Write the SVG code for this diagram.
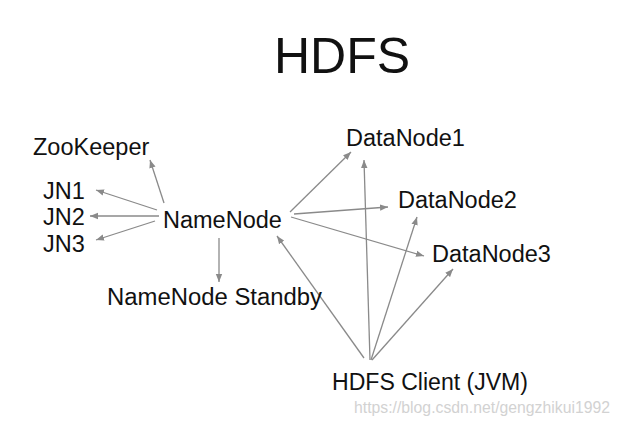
<svg xmlns="http://www.w3.org/2000/svg" width="621" height="426" viewBox="0 0 621 426">
<style>
text{font-family:"Liberation Sans",Arial,sans-serif;fill:#111;}
.n{font-size:23.5px;}
.c line{stroke:#8a8a8a;stroke-width:1.3;marker-end:url(#ah);}
</style>
<defs>
<marker id="ah" markerUnits="userSpaceOnUse" markerWidth="9" markerHeight="8" refX="8" refY="4" orient="auto">
<path d="M0,0.8 L8,4 L0,7.2 Z" fill="#8a8a8a"/>
</marker>
</defs>
<rect width="621" height="426" fill="#fff"/>
<text x="342" y="73" font-size="50" text-anchor="middle">HDFS</text>
<g class="c" id="connectors">
<line x1="164" y1="203" x2="150" y2="160"/>
<line x1="157" y1="210" x2="96" y2="190"/>
<line x1="159" y1="216" x2="90" y2="216"/>
<line x1="155" y1="221" x2="96" y2="240"/>
<line x1="219" y1="238" x2="219" y2="282"/>
<line x1="290" y1="212" x2="351" y2="152"/>
<line x1="294" y1="214" x2="388" y2="207"/>
<line x1="291" y1="217" x2="424" y2="256"/>
<line x1="364" y1="358" x2="277" y2="236"/>
<line x1="370" y1="360" x2="364" y2="160"/>
<line x1="371" y1="360" x2="417" y2="217"/>
<line x1="372" y1="360" x2="453" y2="269"/>
</g>
<g id="zookeeper"><text class="n" x="33" y="155">ZooKeeper</text></g>
<g id="jn1"><text class="n" x="43" y="199">JN1</text></g>
<g id="jn2"><text class="n" x="43" y="225">JN2</text></g>
<g id="jn3"><text class="n" x="43" y="252">JN3</text></g>
<g id="namenode"><text class="n" x="163" y="228">NameNode</text></g>
<g id="standby"><text class="n" x="107" y="305" textLength="215" lengthAdjust="spacingAndGlyphs">NameNode Standby</text></g>
<g id="datanode1"><text class="n" x="346" y="146">DataNode1</text></g>
<g id="datanode2"><text class="n" x="398" y="208">DataNode2</text></g>
<g id="datanode3"><text class="n" x="432" y="262">DataNode3</text></g>
<g id="client"><text class="n" x="332" y="390" textLength="196" lengthAdjust="spacingAndGlyphs">HDFS Client (JVM)</text></g>
<text x="354" y="413" font-size="16" textLength="256" lengthAdjust="spacingAndGlyphs" style="fill:#d2d2d2">https://blog.csdn.net/gengzhikui1992</text>
</svg>
